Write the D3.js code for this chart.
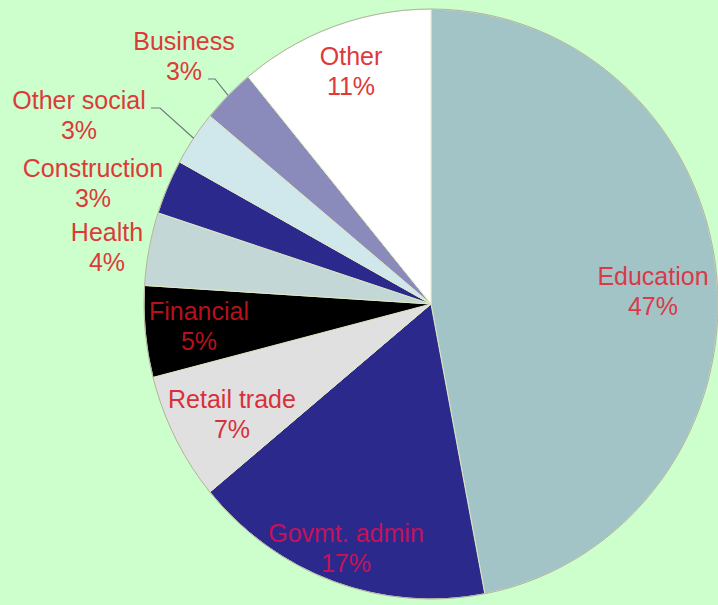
<!DOCTYPE html>
<html>
<head>
<meta charset="utf-8">
<script src="https://cdn.jsdelivr.net/npm/d3@7"></script>
<style>
  html, body { margin: 0; padding: 0; background: #ccffcc; }
  svg { display: block; }
  text { font-family: "Liberation Sans", Arial, sans-serif; }
</style>
</head>
<body>
<svg id="chart" width="718" height="605"></svg>
<script>
// Employment share by sector, clockwise from 12 o'clock
const categories = ["Education", "Govmt. admin", "Retail trade", "Financial", "Health",
                    "Construction", "Other social", "Business", "Other"];
const shares = [47, 17, 7, 5, 4, 3, 3, 3, 11];
const sliceColors = ["#a3c4c6", "#2b2a8c", "#e0e0e0", "#000000", "#c3d7d7",
                     "#2b2a8c", "#d0e8ec", "#8b8bbb", "#ffffff"];
const labelColors = ["#d93a48", "#c4125a", "#d8303a", "#b8101c", "#dd3a3a",
                     "#dd3a3a", "#dd3a3a", "#dd3a3a", "#dd3a3a"];

// label anchor points (centre of text, first baseline)
const labelPos = [
  [653, 285], [346, 542], [232, 408], [199, 320], [107, 241],
  [93, 177], [79, 109], [184, 50], [351, 65]
];

const svg = d3.select("#chart");
const W = 718, H = 605;
svg.append("rect").attr("width", W).attr("height", H).attr("fill", "#ccffcc");

const cx = 431, cy = 304, rx = 287, ry = 295;

const data = categories.map((c, i) => ({ name: c, value: shares[i], i }));
const pie = d3.pie().value(d => d.value).sort(null);
const arcs = pie(data);
const arc = d3.arc().innerRadius(0).outerRadius(ry);

const g = svg.append("g")
  .attr("transform", `translate(${cx},${cy}) scale(${rx / ry},1)`);

g.selectAll("path.slice")
  .data(arcs)
  .join("path")
  .attr("class", "slice")
  .attr("d", arc)
  .attr("fill", d => sliceColors[d.data.i])
  .attr("stroke", "#dfe9c4")
  .attr("stroke-width", 1);

// faint outline of the pie
g.append("ellipse")
  .attr("cx", 0).attr("cy", 0).attr("rx", ry).attr("ry", ry)
  .attr("fill", "none").attr("stroke", "#adb49e").attr("stroke-width", 1);

// leader lines for the two narrow slices at the top-left
function edgePoint(a) {
  const mid = (a.startAngle + a.endAngle) / 2;
  return [cx + rx * Math.sin(mid), cy - ry * Math.cos(mid)];
}
const leaders = [
  { idx: 7, from: [208, 79], elbow: [215, 79] },
  { idx: 6, from: [151, 108], elbow: [160, 108] }
];
leaders.forEach(l => {
  const p = edgePoint(arcs[l.idx]);
  svg.append("polyline")
    .attr("points", [l.from, l.elbow, p].map(q => q.join(",")).join(" "))
    .attr("fill", "none")
    .attr("stroke", "#6f7a7a")
    .attr("stroke-width", 1.2);
});

// labels: name on first line, percentage below
const labels = svg.append("g").attr("font-size", 25).attr("text-anchor", "middle");
data.forEach((d, i) => {
  const [x, y] = labelPos[i];
  const t = labels.append("text")
    .attr("x", x).attr("y", y)
    .attr("fill", labelColors[i]);
  t.append("tspan").attr("x", x).text(d.name);
  t.append("tspan").attr("x", x).attr("dy", 30).text(d3.format("d")(d.value) + "%");
});
</script>
</body>
</html>
